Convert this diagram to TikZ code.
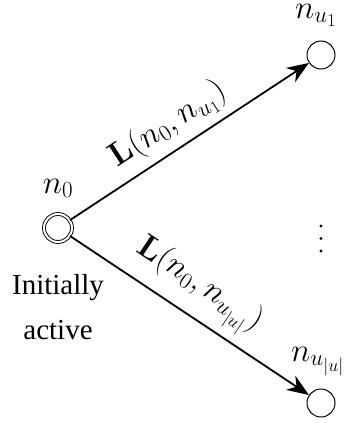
\RequirePackage{fix-cm}
\documentclass[tikz,border=0pt]{standalone}
\usepackage[no-math]{fontspec}
\newfontfamily\timesfont{Liberation Serif}
\DeclareMathSizes{33}{33}{23}{18}
\usetikzlibrary{arrows.meta}
\begin{document}
\begin{tikzpicture}[x=1pt,y=-1pt,
  txt/.style={font=\fontsize{29}{45}\selectfont, inner sep=0pt},
  mth/.style={font=\fontsize{33}{40}\selectfont, inner sep=0pt},
  leaf/.style={circle, draw, line width=1pt, minimum size=28pt, inner sep=0pt},
  root/.style={circle, draw, double, line width=0.9pt, double distance=2pt, minimum size=28pt, inner sep=0pt},
  link/.style={line width=1.8pt, -{Stealth[length=22pt,width=17pt]}}]
\useasboundingbox (0,0) rectangle (346,423);
\node[root] (n0) at (58,228) {};
\node[leaf] (a) at (321,55) {};
\node[leaf] (b) at (321,403) {};
\node[mth, anchor=base] (l0) at (58,193) {$n_0$};
\node[mth, anchor=base west] (la) at (295,18) {$n_{u_1}$};
\node[mth, anchor=base west] (lb) at (291,361) {$n_{u_{|u|}}$};
\node[txt, anchor=north, align=center] (init) at (58,274) {{\timesfont Initially}\\{\timesfont active}};
\draw[link] (n0) -- node[mth, sloped, above=8pt, pos=0.47] (e1) {$\mathbf{L}(n_0,n_{u_1})$} (a);
\draw[link] (n0) -- node[mth, sloped, above=8pt, pos=0.47] (e2) {$\mathbf{L}(n_0,n_{u_{|u|}})$} (b);
\fill (321,226) circle (1.6pt) (321,238.5) circle (1.6pt) (321,251) circle (1.6pt);
\end{tikzpicture}
\end{document}
